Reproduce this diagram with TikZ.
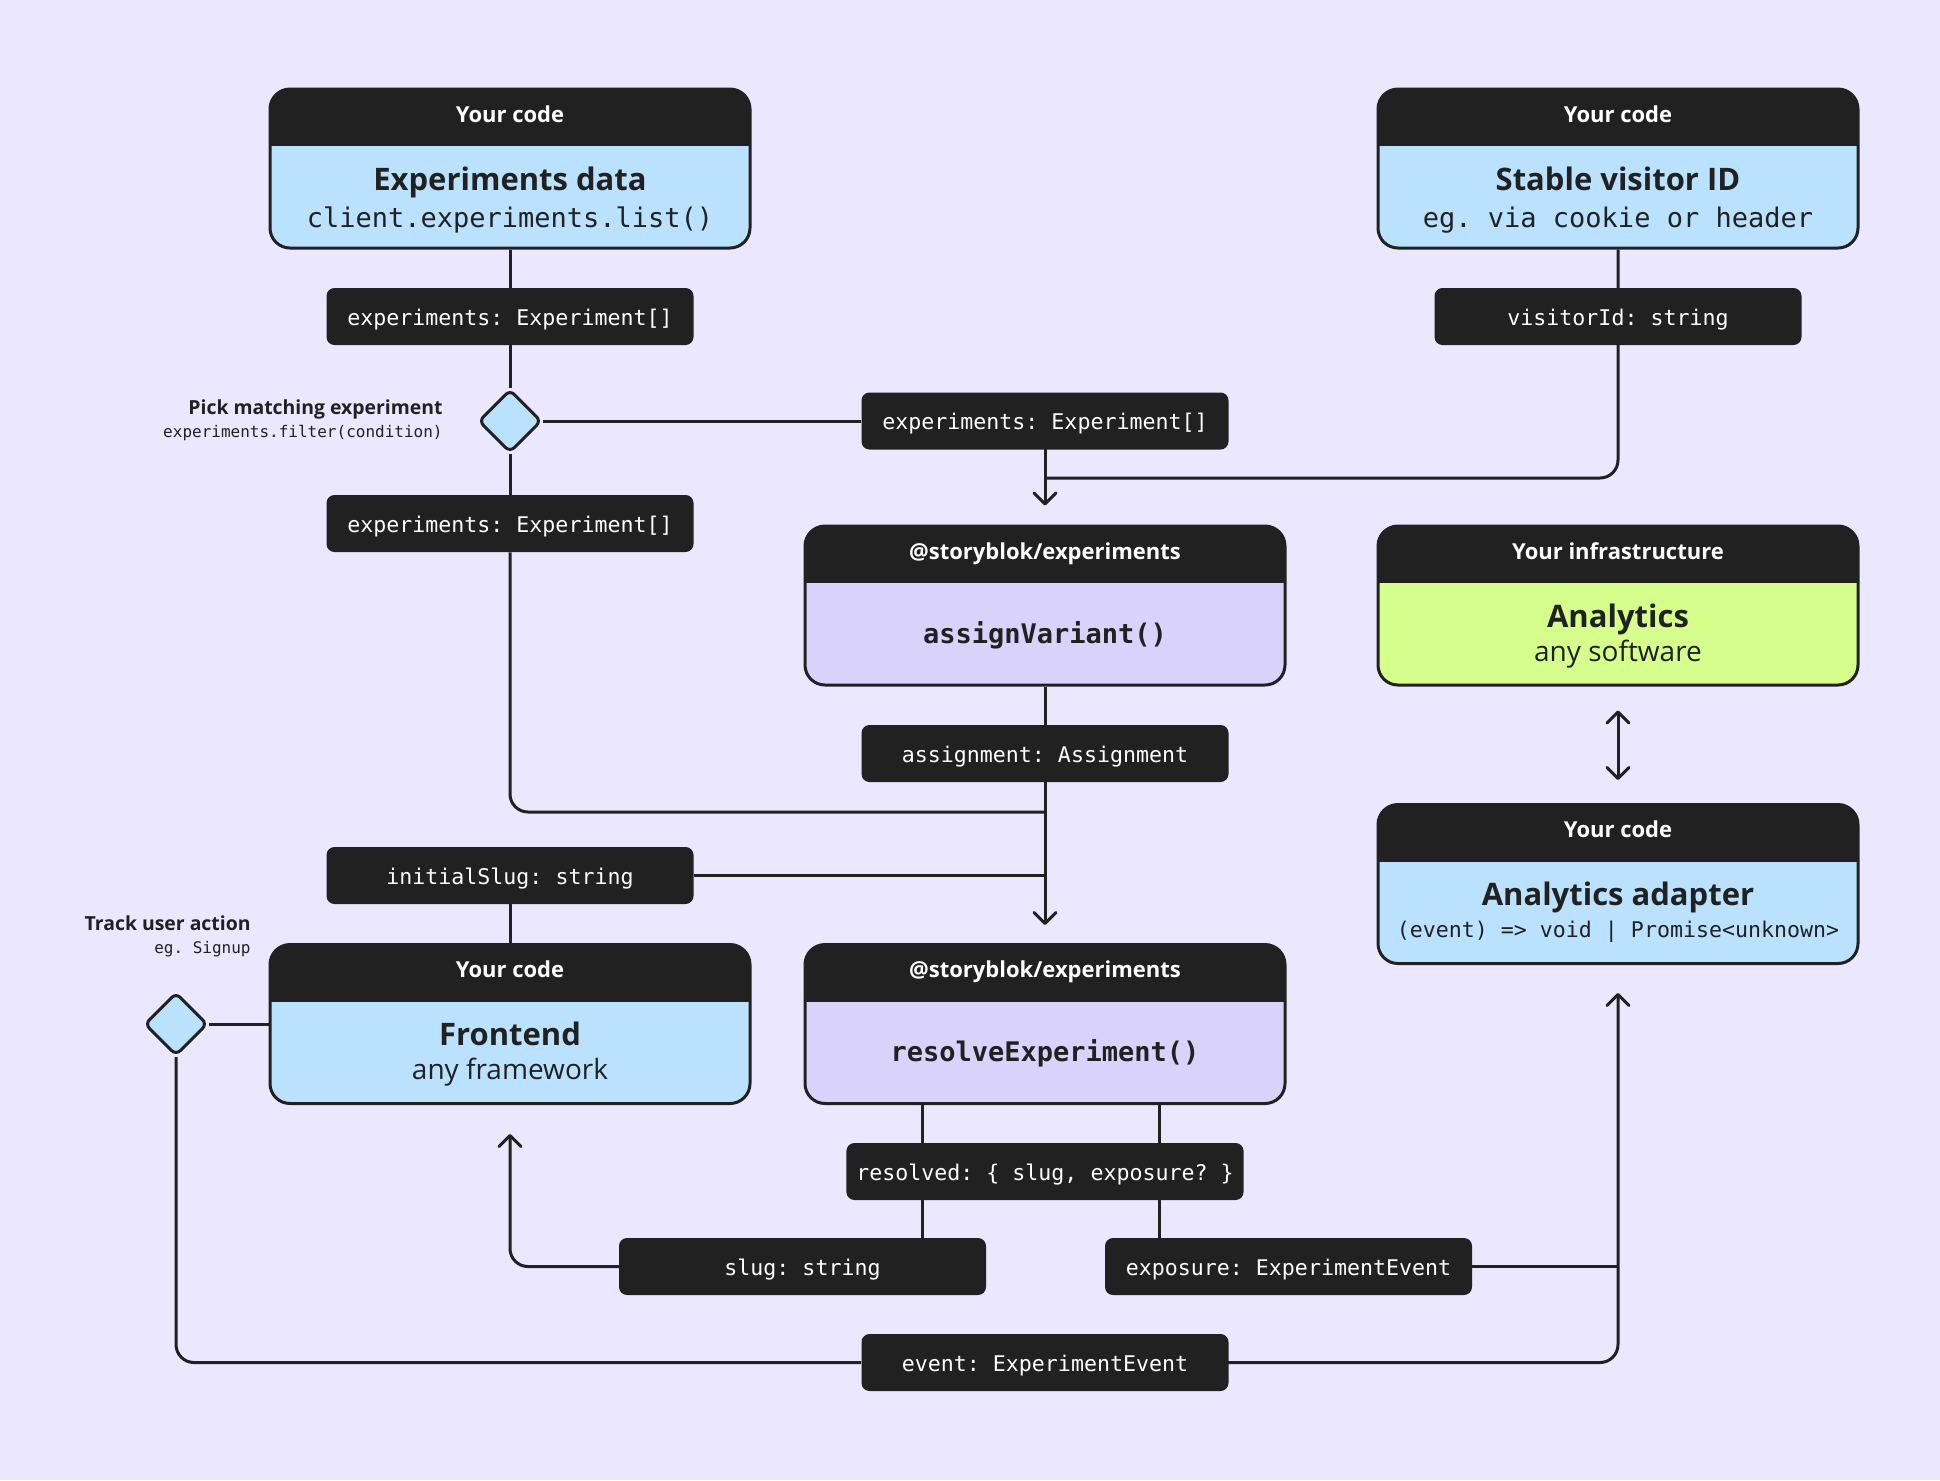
\documentclass[tikz,border=0pt]{standalone}
\usepackage{fontspec}
\setmainfont{Open Sans}
\setmonofont{DejaVu Sans Mono}
\usetikzlibrary{arrows.meta,shapes.geometric,calc}
\definecolor{bgc}{HTML}{EBE7FE}
\definecolor{dk}{HTML}{212121}
\definecolor{blu}{HTML}{BAE2FE}
\definecolor{lav}{HTML}{D9D3FC}
\definecolor{grn}{HTML}{D5FE8C}
\pgfdeclarelayer{bgl}
\pgfdeclarelayer{lines}
\pgfsetlayers{bgl,lines,main}
\begin{document}
\begin{tikzpicture}[x=0.5pt,y=-0.5pt,
  card/.style={draw=dk, line width=1.5pt, rounded corners=10pt, minimum width=240pt, minimum height=79.5pt, inner sep=0pt,
    path picture={\fill[dk, sharp corners] (path picture bounding box.north west) rectangle ([yshift=-28.5pt]path picture bounding box.north east);}},
  hd/.style={text=white, font=\bfseries\fontsize{11}{13}\selectfont, anchor=base, inner sep=0pt},
  ttl/.style={text=dk, font=\bfseries\fontsize{15.5}{18}\selectfont, anchor=base, inner sep=0pt},
  sbm/.style={text=dk, font=\ttfamily\fontsize{13.5}{16}\selectfont, anchor=base, inner sep=0pt},
  sbs/.style={text=dk, font=\fontsize{14}{16}\selectfont, anchor=base, inner sep=0pt},
  fn/.style={text=dk, font=\ttfamily\bfseries\fontsize{13.5}{16}\selectfont, anchor=base, inner sep=0pt},
  lbl/.style={fill=dk, text=white, rounded corners=4pt, minimum width=183.5pt, minimum height=28.5pt, inner xsep=5pt, inner ysep=0pt, text height=8.5pt, text depth=0pt, font=\ttfamily\fontsize{10.8}{13}\selectfont},
  dia/.style={diamond, aspect=1, draw=dk, fill=blu, line width=1.5pt, minimum width=31.5pt, minimum height=31.5pt, inner sep=0pt, rounded corners=3pt},
  note/.style={anchor=base east, text=dk, inner sep=0pt, font=\bfseries\fontsize{9.7}{12}\selectfont},
  notec/.style={anchor=base east, text=dk, inner sep=0pt, font=\ttfamily\fontsize{8}{10}\selectfont},
  conn/.style={draw=dk, line width=1.5pt, rounded corners=9pt},
  arr/.style={conn, -{Straight Barb[length=5.5pt,width=11pt,round]}},
  dbl/.style={conn, {Straight Barb[length=5.5pt,width=11pt,round]}-{Straight Barb[length=5.5pt,width=11pt,round]}}
]
\begin{pgfonlayer}{bgl}
\fill[bgc] (0,0) rectangle (1940,1480);
\end{pgfonlayer}
\useasboundingbox (0,0) rectangle (1940,1480);

% cards
\node[card, fill=blu] (data) at (510,168.5) {};
\node[hd] (dataH) at (510,122) {Your code};
\node[ttl] (dataT) at (510,190) {Experiments data};
\node[sbm] (dataS) at (510,227) {client.experiments.list()};

\node[card, fill=blu] (vis) at (1618,168.5) {};
\node[hd] (visH) at (1618,122) {Your code};
\node[ttl] (visT) at (1618,190) {Stable visitor ID};
\node[sbm] (visS) at (1618,227) {eg. via cookie or header};

\node[card, fill=lav] (asg) at (1045,605.5) {};
\node[hd] (asgH) at (1045,559) {@storyblok/experiments};
\node[fn] (asgF) at (1045,643) {assignVariant()};

\node[card, fill=grn] (ana) at (1618,605.5) {};
\node[hd] (anaH) at (1618,559) {Your infrastructure};
\node[ttl] (anaT) at (1618,627) {Analytics};
\node[sbs] (anaS) at (1618,661) {any software};

\node[card, fill=blu] (adp) at (1618,884) {};
\node[hd] (adpH) at (1618,837) {Your code};
\node[ttl] (adpT) at (1618,905) {Analytics adapter};
\node[sbm, font=\ttfamily\fontsize{10.8}{13}\selectfont] (adpS) at (1618,937) {(event) => void | Promise<unknown>};

\node[card, fill=blu] (fe) at (510,1024) {};
\node[hd] (feH) at (510,977) {Your code};
\node[ttl] (feT) at (510,1045) {Frontend};
\node[sbs] (feS) at (510,1079) {any framework};

\node[card, fill=lav] (res) at (1045,1024) {};
\node[hd] (resH) at (1045,977) {@storyblok/experiments};
\node[fn] (resF) at (1045,1061) {resolveExperiment()};

% labels
\node[lbl] (l1) at (510,316.5) {experiments: Experiment[]};
\node[lbl] (vid) at (1618,316.5) {visitorId: string};
\node[lbl] (l2) at (1045,421) {experiments: Experiment[]};
\node[lbl] (l3) at (510,523.5) {experiments: Experiment[]};
\node[lbl] (al) at (1045,753.5) {assignment: Assignment};
\node[lbl] (isl) at (510,875.5) {initialSlug: string};
\node[lbl] (rl) at (1045,1171.5) {resolved: \{ slug, exposure? \}};
\node[lbl] (sl) at (802.5,1266.5) {slug: string};
\node[lbl] (el) at (1288.5,1266.5) {exposure: ExperimentEvent};
\node[lbl] (evl) at (1045,1362.5) {event: ExperimentEvent};

% diamonds
\node[dia] (dm1) at (510,421) {};
\node[dia] (dm2) at (176,1024) {};
\node[note] (pick) at (443,414) {Pick matching experiment};
\node[notec] (pickc) at (443,437) {experiments.filter(condition)};
\node[note] (track) at (251,930) {Track user action};
\node[notec] (trackc) at (251,953) {eg. Signup};

% connectors
\begin{pgfonlayer}{lines}
\draw[conn] (data) -- (l1);
\draw[conn] (l1) -- (dm1);
\draw[conn] (dm1) -- (l3);
\draw[conn] (dm1) -- (l2);
\draw[arr, shorten >=9.5pt] (l2.center) -- (asg.north);
\coordinate (j1) at (1045,478);
\draw[conn] (vis) |- (j1);
\coordinate (j2) at (1045,812);
\draw[conn] (l3) |- (j2);
\draw[conn] (asg) -- (al);
\draw[arr, shorten >=9pt] (al.center) -- (res.north);
\draw[conn] (isl) -- (isl -| al);
\draw[conn] (isl) -- (fe);
\draw[conn] (dm2) -- (fe);
\draw[conn] (dm2) |- (evl);
\draw[arr, shorten >=14pt] (evl.center) -| (adp.south);
\draw[conn] (el) -- (el -| adp);
\coordinate (xa) at (922,0);
\coordinate (xb) at (1159,0);
\draw[conn] (res.south -| xa) -- (sl.north -| xa);
\draw[conn] (res.south -| xb) -- (el.north -| xb);
\draw[arr, shorten >=14.5pt] (sl.center) -| (fe.south);
\draw[dbl, shorten <=12pt, shorten >=11.5pt] (ana.south) -- (adp.north);
\end{pgfonlayer}
\end{tikzpicture}
\end{document}
